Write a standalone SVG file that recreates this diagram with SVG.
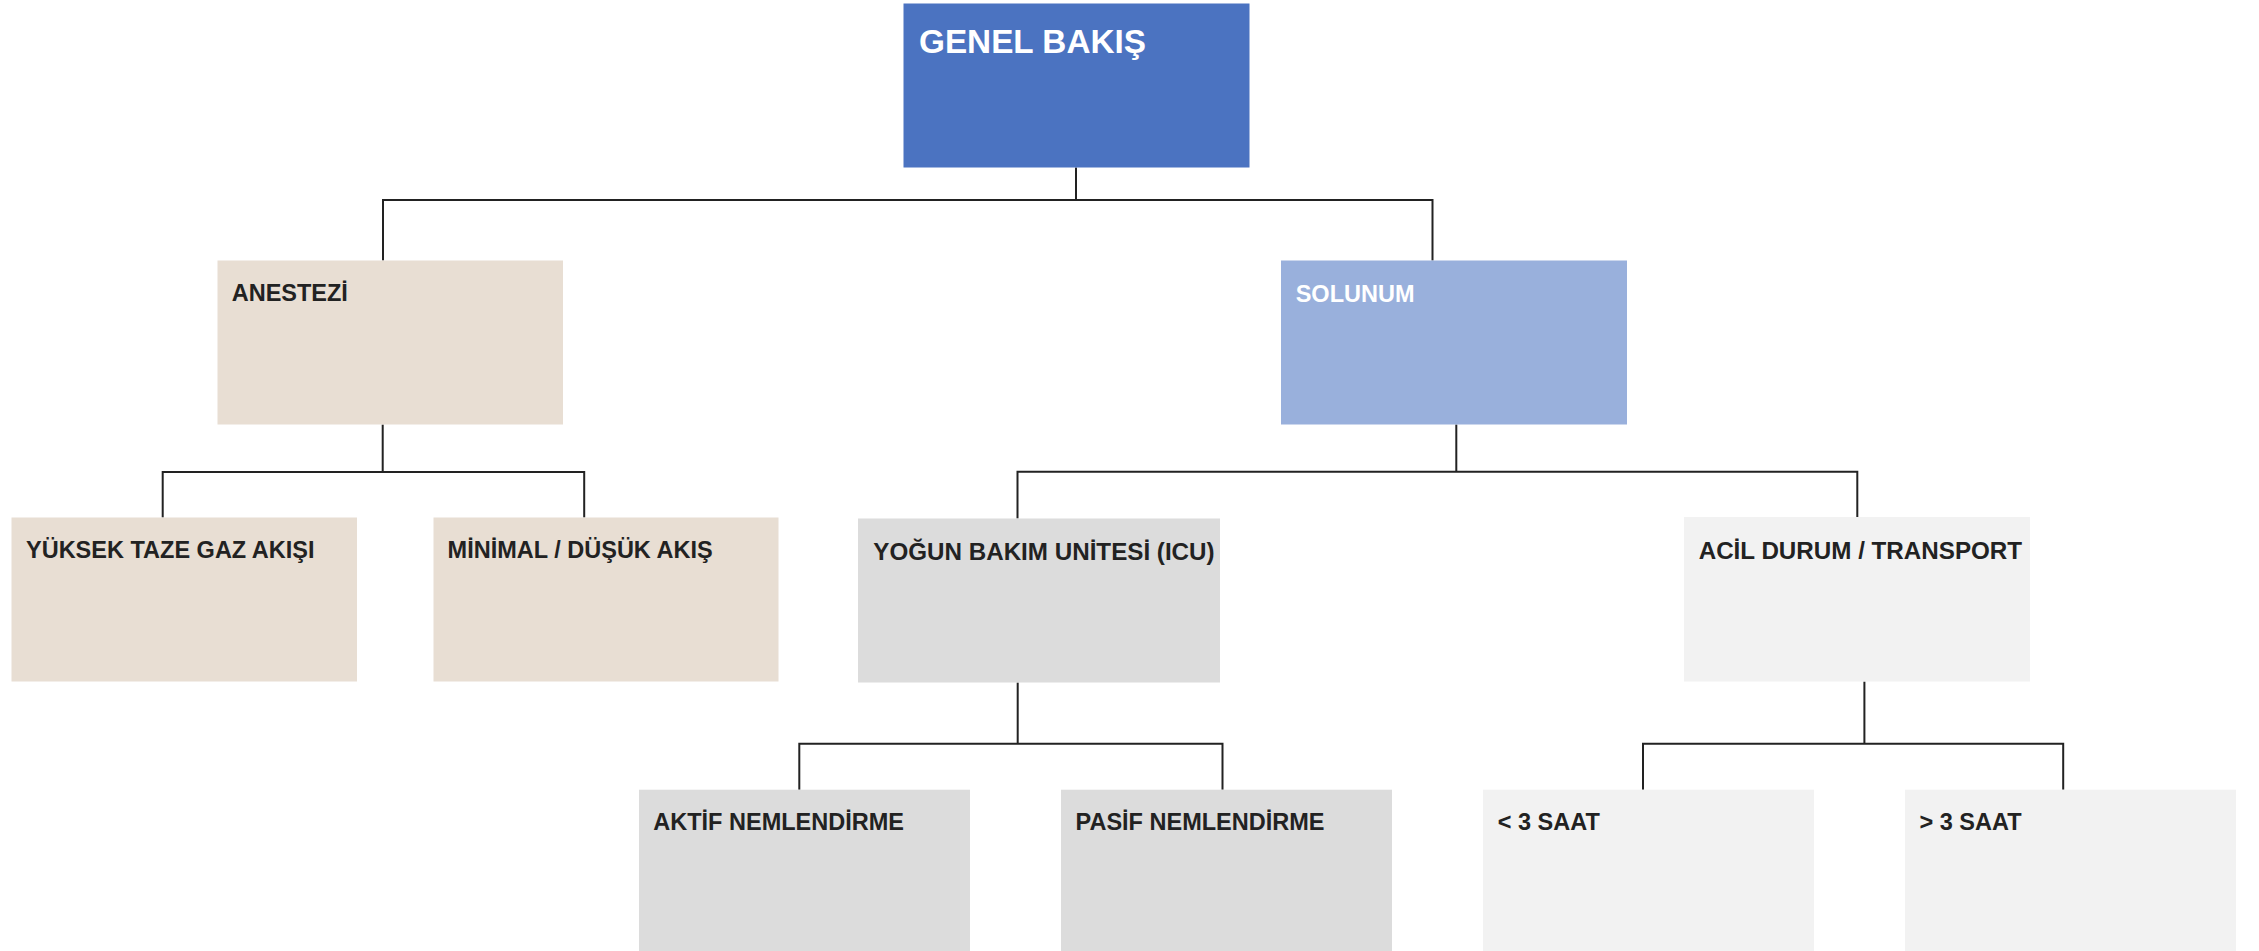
<svg xmlns="http://www.w3.org/2000/svg" width="2259" height="951" viewBox="0 0 2259 951">
  <style>
    .lbl { font-family: "Liberation Sans", Arial, sans-serif; font-weight: bold; font-size: 23.5px; fill: #222222; }
    .lblw { fill: #ffffff; }
    .title { font-size: 33.3px; }
    .mid { font-size: 24.2px; }
    .blue { fill: #4B73C1; }
    .lblue { fill: #99B0DC; }
    .beige { fill: #E8DED3; }
    .grey { fill: #DCDCDC; }
    .light { fill: #F2F2F2; }
    .conn { fill: none; stroke: #222222; stroke-width: 2; }
  </style>
  <rect x="0" y="0" width="2259" height="951" fill="#ffffff"/>
  <g id="connectors">
    <path class="conn" d="M1076 167.5 V200 M383 200 H1432.5 M383 199 V260.5 M1432.5 199 V260.5"/>
    <path class="conn" d="M382.7 424.5 V472 M162.7 472 H584.2 M162.7 471 V517.5 M584.2 471 V517.5"/>
    <path class="conn" d="M1456.3 424.5 V471.7 M1017.5 471.7 H1857.3 M1017.5 470.7 V518.5 M1857.3 470.7 V517"/>
    <path class="conn" d="M1017.7 682.5 V743.7 M799.3 743.7 H1222.5 M799.3 742.7 V789.7 M1222.5 742.7 V789.7"/>
    <path class="conn" d="M1864.4 681.5 V743.7 M1643 743.7 H2063.2 M1643 742.7 V789.7 M2063.2 742.7 V789.7"/>
  </g>
  <g id="genel-bakis">
    <rect class="blue" x="903.5" y="3.5" width="346" height="164"/>
    <text class="lbl lblw title" x="919" y="53.3">GENEL BAKIŞ</text>
  </g>
  <g id="anestezi">
    <rect class="beige" x="217.5" y="260.5" width="345.5" height="164"/>
    <text class="lbl" x="231.7" y="301">ANESTEZİ</text>
  </g>
  <g id="solunum">
    <rect class="lblue" x="1281" y="260.5" width="346" height="164"/>
    <text class="lbl lblw" x="1295.7" y="301.5">SOLUNUM</text>
  </g>
  <g id="yuksek-taze-gaz">
    <rect class="beige" x="11.5" y="517.5" width="345.5" height="164"/>
    <text class="lbl" x="26" y="558.3">YÜKSEK TAZE GAZ AKIŞI</text>
  </g>
  <g id="minimal-dusuk">
    <rect class="beige" x="433.5" y="517.5" width="345" height="164"/>
    <text class="lbl" x="447.6" y="558.3">MİNİMAL / DÜŞÜK AKIŞ</text>
  </g>
  <g id="yogun-bakim">
    <rect class="grey" x="858" y="518.5" width="362" height="164"/>
    <text class="lbl mid" x="873.3" y="560">YOĞUN BAKIM UNİTESİ (ICU)</text>
  </g>
  <g id="acil-durum">
    <rect class="light" x="1684" y="517" width="346" height="164.5"/>
    <text class="lbl mid" x="1698.7" y="558.7">ACİL DURUM / TRANSPORT</text>
  </g>
  <g id="aktif-nemlendirme">
    <rect class="grey" x="639" y="789.7" width="331" height="162"/>
    <text class="lbl" x="653.3" y="830">AKTİF NEMLENDİRME</text>
  </g>
  <g id="pasif-nemlendirme">
    <rect class="grey" x="1061" y="789.7" width="331" height="162"/>
    <text class="lbl" x="1075.5" y="830">PASİF NEMLENDİRME</text>
  </g>
  <g id="alti-3-saat">
    <rect class="light" x="1483" y="789.7" width="331" height="162"/>
    <text class="lbl" x="1497.7" y="830">&lt; 3 SAAT</text>
  </g>
  <g id="ustu-3-saat">
    <rect class="light" x="1905" y="789.7" width="331" height="162"/>
    <text class="lbl" x="1919.5" y="830">&gt; 3 SAAT</text>
  </g>
</svg>
